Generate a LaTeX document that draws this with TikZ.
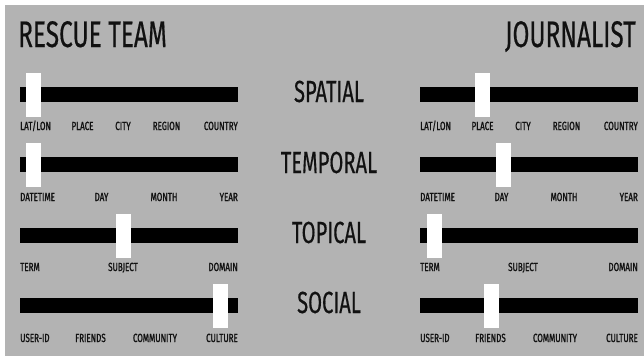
\documentclass[tikz,border=0pt]{standalone}
\usepackage{fontspec}
\setmainfont{Fira Sans}[FakeStretch=0.68,FakeBold=1.2]
\newfontfamily\headfont{Fira Sans}[FakeStretch=0.66,FakeBold=0.4]
\usetikzlibrary{positioning}
\definecolor{panelgray}{RGB}{179,179,179}
\definecolor{inkblack}{RGB}{17,17,17}

\begin{document}
\begin{tikzpicture}[x=1pt,y=-1pt,
    bar/.style={fill=black,inner sep=0pt,minimum width=218pt,minimum height=15pt},
    knob/.style={fill=white,inner sep=0pt,minimum width=15pt,minimum height=44pt},
    role/.style={inkblack,inner sep=0pt,font=\headfont\fontsize{37}{37}\selectfont},
    facet/.style={inkblack,inner sep=0pt,anchor=base,font=\headfont\fontsize{30.5}{30.5}\selectfont},
    tick/.style={inkblack,inner sep=0pt,font=\fontsize{11.8}{11.8}\selectfont}]
  % page with a thin white margin top and left
  \useasboundingbox (0,0) rectangle (644,356);
  \fill[white] (0,0) rectangle (644,356);
  \fill[panelgray] (5,5) rectangle (644,356);
  % roles
  \node[role,anchor=base west] (rescue) at (18,47) {RESCUE TEAM};
  \node[role,anchor=base east] (journalist) at (636,47) {JOURNALIST};
  % facet names in the middle column
  \foreach \i/\name/\b in {1/SPATIAL/102, 2/TEMPORAL/173, 3/TOPICAL/243, 4/SOCIAL/313} {
    \node[facet] (facet\i) at (329,\b) {\name};
  }
  % bars, same layout on both sides
  \foreach \side/\dx in {L/0, R/400} {
    \foreach \i/\y in {1/94.5, 2/164.5, 3/235.5, 4/305.5} {
      \node[bar] (bar\side\i) at ({129+\dx},\y) {};
    }
    % scale labels: x/baseline/text/anchor
    \foreach \n/\x/\b/\t/\a in {
      1/20/130/LAT\slash LON/base west, 2/82.5/130/PLACE/base, 3/123/130/CITY/base,
      4/166.5/130/REGION/base, 5/238/130/COUNTRY/base east,
      6/20/201/DATETIME/base west, 7/101.5/201/DAY/base, 8/164/201/MONTH/base,
      9/238/201/YEAR/base east,
      10/20/271/TERM/base west, 11/123/271/SUBJECT/base, 12/238/271/DOMAIN/base east,
      13/20/342/USER-ID/base west, 14/90.5/342/FRIENDS/base, 15/155/342/COMMUNITY/base,
      16/238/342/CULTURE/base east} {
      \node[tick,anchor=\a] (tick\side\n) at ({\x+\dx},\b) {\t};
    }
  }
  % slider positions
  \foreach \i/\x/\y in {1/33.5/94.5, 2/33.5/164.5, 3/123.5/235.5, 4/220.5/305.5} {
    \node[knob] (knobL\i) at (\x,\y) {};
  }
  \foreach \i/\x/\y in {1/482.5/94.5, 2/503.5/164.5, 3/434.5/235.5, 4/491.5/305.5} {
    \node[knob] (knobR\i) at (\x,\y) {};
  }
\end{tikzpicture}
\end{document}
